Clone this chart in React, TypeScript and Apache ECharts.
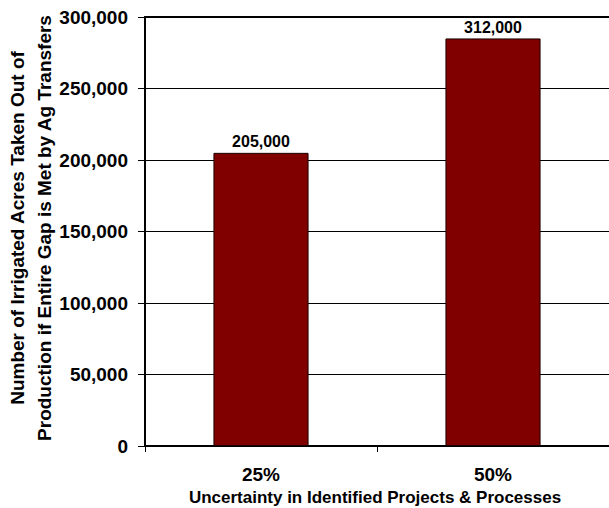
import React, { useEffect, useRef } from "react";
import * as echarts from "echarts";

const categories = ["25%", "50%"];
const barValues = [205000, 285000];
const barLabels = ["205,000", "312,000"];
const yTicks = { min: 0, max: 300000, interval: 50000 };
const yTitleLines = ["Number of Irrigated Acres Taken Out of", "Production if Entire Gap is Met by Ag Transfers"];
const xTitle = "Uncertainty in Identified Projects & Processes";

export default function App() {
  const ref = useRef<HTMLDivElement>(null);
  useEffect(() => {
    const chart = echarts.init(ref.current!, null, { renderer: "svg" });
    const font = "Liberation Sans, Arial, sans-serif";
    chart.setOption({
      animation: false,
      backgroundColor: "#ffffff",
      grid: { left: 145, right: -6, top: 17, bottom: 62, containLabel: false },
      xAxis: [
        {
          type: "category",
          data: categories,
          axisLine: { lineStyle: { color: "#000", width: 2 } },
          axisTick: { show: true, length: 6, lineStyle: { color: "#000" } },
          axisLabel: { color: "#000", fontFamily: font, fontWeight: "bold", fontSize: 19, margin: 19 },
        },
        {
          type: "category",
          position: "top",
          data: categories,
          axisLine: { lineStyle: { color: "#000", width: 2 } },
          axisTick: { show: false },
          axisLabel: { show: false },
        },
      ],
      yAxis: {
        type: "value",
        min: yTicks.min,
        max: yTicks.max,
        interval: yTicks.interval,
        axisLine: { show: true, lineStyle: { color: "#000", width: 2 } },
        axisTick: { show: true, length: 7, lineStyle: { color: "#000" } },
        axisLabel: {
          color: "#000",
          fontFamily: font,
          fontWeight: "bold",
          fontSize: 19,
          margin: 17,
          formatter: (v: number) => v.toLocaleString("en-US"),
        },
        splitLine: { show: true, lineStyle: { color: "#000", width: 1 } },
      },
      series: [
        {
          type: "bar",
          data: barValues,
          barWidth: "41%",
          itemStyle: { color: "#800000", borderColor: "#1a0000", borderWidth: 1 },
          label: {
            show: true,
            position: "top",
            color: "#000",
            fontFamily: font,
            fontWeight: "bold",
            fontSize: 16,
            distance: 3,
            formatter: (p: any) => barLabels[p.dataIndex],
          },
        },
      ],
      graphic: [
        {
          type: "text",
          x: 375,
          y: 497,
          style: {
            text: xTitle,
            fill: "#000",
            font: `bold 17px ${font}`,
            textAlign: "center",
            textVerticalAlign: "middle",
          },
        },
        {
          type: "text",
          x: 31,
          y: 228,
          rotation: Math.PI / 2,
          style: {
            text: yTitleLines.join("\n"),
            fill: "#000",
            font: `bold 19px ${font}`,
            textAlign: "center",
            textVerticalAlign: "middle",
            lineHeight: 27,
          },
        },
      ],
    });
    return () => chart.dispose();
  }, []);
  return <div ref={ref} style={{ width: 609, height: 508, position: "absolute", left: 0, top: 0 }} />;
}
